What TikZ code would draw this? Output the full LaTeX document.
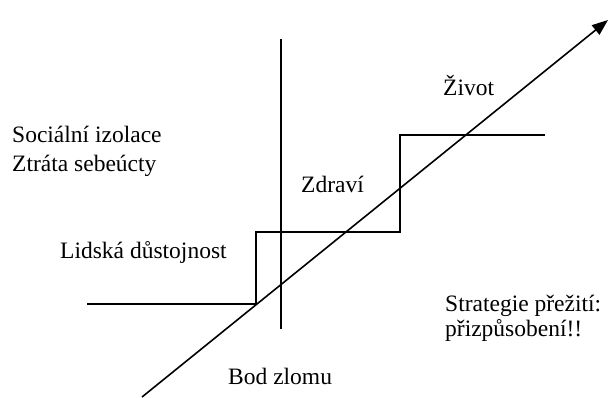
\documentclass[tikz,border=0pt]{standalone}
\usepackage{fontspec}
\setmainfont{Liberation Serif}
\usetikzlibrary{arrows.meta}
\tikzset{
    stair line/.style={line width=1.6pt, black},
    break line/.style={line width=1.6pt, black},
    trend line/.style={line width=1.6pt, black, -{Triangle[length=16pt,width=12pt]}},
    word/.style={font=\fontsize{23.5}{29}\selectfont, anchor=base west, inner sep=0pt}
}

\begin{document}
\begin{tikzpicture}[x=1pt,y=-1pt]
    \useasboundingbox(0,0)rectangle(610,397);

    % staircase
    \coordinate(S0)at(87,304);
    \coordinate(S1)at(256,304);
    \coordinate(S2)at(256,232);
    \coordinate(S3)at(400,232);
    \coordinate(S4)at(400,135);
    \coordinate(S5)at(545,135);
    \draw[stair line](S0)--(S1)--(S2)--(S3)--(S4)--(S5);

    % vertical break
    \coordinate(V0)at(281,39);
    \coordinate(V1)at(281,329);
    \draw[break line](V0)--(V1);

    % rising arrow
    \coordinate(A0)at(142,397);
    \coordinate(A1)at(608,20);
    \draw[trend line](A0)--(A1);

    \node[word](soc)at(12,142){Sociální izolace};
    \node[word](ztr)at(12,171){Ztráta sebeúcty};
    \node[word](lid)at(60,258){Lidská důstojnost};
    \node[word](zdr)at(301,192){Zdraví};
    \node[word](ziv)at(443,95){Život};
    \node[word](str)at(445,311){Strategie přežití:};
    \node[word](pri)at(445,336){přizpůsobení!!};
    \node[word](bod)at(228,384){Bod zlomu};
\end{tikzpicture}
\end{document}
